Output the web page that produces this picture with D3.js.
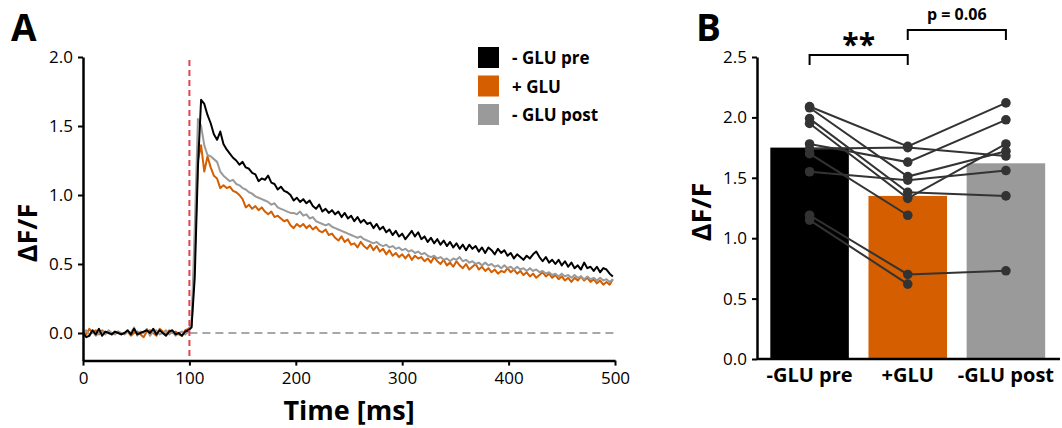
<!DOCTYPE html>
<html>
<head>
<meta charset="utf-8">
<script src="https://cdn.jsdelivr.net/npm/d3@7"></script>
<style>
  body { margin: 0; background: #fff; }
  svg { display: block; }
  text { font-family: "Open Sans", "Noto Sans", sans-serif; fill: #000; }
</style>
</head>
<body>
<svg id="drawing_region"></svg>
<script>
// ---- panel A: mean traces, sampled every 3 ms from 0 to 498 ms ----
const times = d3.range(0, 499, 3);

const tracePre = [
  0.00, -0.03, -0.02, 0.02, -0.01, 0.03, -0.02, 0.01, 0.00, -0.01, 0.01, 0.00, -0.01, 0.00, 0.02, -0.01, 0.03,
  -0.01, 0.00, 0.01, 0.02, 0.00, 0.03, -0.01, 0.02, 0.00, -0.02, 0.01, 0.02, -0.01, 0.00, -0.02, 0.01, 0.02,
  0.04, 0.40, 1.20, 1.69,
  1.66, 1.58, 1.52, 1.44, 1.40, 1.46, 1.37, 1.33, 1.30, 1.27,
  1.25, 1.22, 1.24, 1.20, 1.19, 1.16, 1.15, 1.10, 1.12, 1.11,
  1.14, 1.09, 1.08, 1.04, 1.06, 1.03, 1.02, 1.00, 0.96, 0.98,
  0.95, 0.97, 0.94, 0.96, 0.92, 0.90, 0.93, 0.88, 0.90, 0.87,
  0.89, 0.86, 0.88, 0.84, 0.87, 0.83, 0.85, 0.81, 0.84, 0.80,
  0.82, 0.79, 0.80, 0.76, 0.79, 0.75, 0.77, 0.73, 0.75, 0.71,
  0.74, 0.70, 0.72, 0.68, 0.71, 0.74, 0.70, 0.73, 0.68, 0.70,
  0.66, 0.69, 0.65, 0.68, 0.64, 0.67, 0.63, 0.66, 0.62, 0.65,
  0.61, 0.64, 0.60, 0.64, 0.61, 0.63, 0.59, 0.62, 0.58, 0.62,
  0.60, 0.57, 0.61, 0.58, 0.60, 0.56, 0.58, 0.54, 0.57, 0.55,
  0.53, 0.56, 0.54, 0.57, 0.59, 0.55, 0.52, 0.55, 0.51, 0.53,
  0.50, 0.53, 0.49, 0.52, 0.48, 0.51, 0.47, 0.49, 0.46, 0.51,
  0.47, 0.48, 0.45, 0.48, 0.44, 0.47, 0.46, 0.43, 0.41
];

const traceGlu = [
  0.01, -0.01, 0.03, 0.00, 0.02, -0.01, 0.02, 0.00, 0.01, -0.01, 0.00, 0.01, -0.01, 0.00, 0.01, -0.02, 0.00,
  0.01, -0.01, -0.03, 0.01, 0.02, 0.00, -0.02, 0.03, 0.01, -0.01, 0.02, 0.00, 0.01, -0.01, -0.02, 0.02, 0.03,
  0.05, 0.55, 1.25, 1.36,
  1.17, 1.28, 1.20, 1.14, 1.12, 1.05, 1.07, 1.05, 1.06, 1.03,
  1.02, 1.00, 0.97, 0.91, 0.93, 0.90, 0.92, 0.89, 0.91, 0.88,
  0.86, 0.88, 0.84, 0.85, 0.83, 0.81, 0.82, 0.78, 0.76, 0.79,
  0.77, 0.79, 0.76, 0.78, 0.75, 0.77, 0.74, 0.73, 0.75, 0.71,
  0.72, 0.69, 0.67, 0.70, 0.66, 0.68, 0.64, 0.65, 0.62, 0.66,
  0.63, 0.61, 0.64, 0.60, 0.63, 0.59, 0.61, 0.57, 0.60, 0.56,
  0.58, 0.55, 0.57, 0.54, 0.57, 0.53, 0.56, 0.54, 0.55, 0.52,
  0.54, 0.51, 0.55, 0.52, 0.50, 0.53, 0.49, 0.51, 0.48, 0.52,
  0.49, 0.47, 0.50, 0.46, 0.48, 0.50, 0.46, 0.48, 0.45, 0.47,
  0.44, 0.46, 0.43, 0.45, 0.44, 0.47, 0.44, 0.46, 0.43, 0.45,
  0.42, 0.44, 0.41, 0.43, 0.40, 0.42, 0.44, 0.41, 0.43, 0.40,
  0.42, 0.39, 0.41, 0.38, 0.40, 0.37, 0.40, 0.38, 0.41, 0.38,
  0.40, 0.37, 0.39, 0.36, 0.38, 0.35, 0.37, 0.35, 0.39
];

const tracePost = [
  0.00, 0.02, -0.01, 0.01, -0.02, 0.00, 0.01, -0.01, 0.02, 0.00, -0.01, 0.01, 0.00, -0.01, 0.01, 0.00, 0.04,
  -0.02, 0.01, 0.00, 0.03, -0.02, 0.01, 0.02, -0.01, 0.00, 0.02, -0.01, 0.01, -0.02, 0.00, 0.01, -0.01, 0.01,
  0.06, 0.75, 1.55, 1.50,
  1.36, 1.29, 1.28, 1.26, 1.24, 1.17, 1.14, 1.12, 1.10, 1.11,
  1.08, 1.07, 1.05, 1.04, 1.02, 1.01, 0.99, 0.98, 0.97, 0.96,
  0.95, 0.93, 0.94, 0.91, 0.90, 0.89, 0.88, 0.87, 0.87, 0.86,
  0.88, 0.85, 0.86, 0.83, 0.84, 0.81, 0.80, 0.79, 0.78, 0.79,
  0.77, 0.76, 0.75, 0.74, 0.73, 0.72, 0.71, 0.70, 0.69, 0.70,
  0.68, 0.67, 0.66, 0.65, 0.66, 0.64, 0.63, 0.64, 0.62, 0.63,
  0.61, 0.62, 0.60, 0.61, 0.59, 0.60, 0.58, 0.59, 0.57, 0.58,
  0.56, 0.55, 0.56, 0.54, 0.55, 0.53, 0.54, 0.52, 0.54, 0.53,
  0.55, 0.52, 0.53, 0.51, 0.52, 0.50, 0.51, 0.49, 0.51, 0.49,
  0.50, 0.48, 0.49, 0.47, 0.49, 0.47, 0.48, 0.46, 0.48, 0.46,
  0.47, 0.45, 0.47, 0.45, 0.46, 0.44, 0.45, 0.43, 0.44, 0.42,
  0.43, 0.41, 0.43, 0.41, 0.42, 0.40, 0.42, 0.40, 0.41, 0.39,
  0.41, 0.39, 0.40, 0.38, 0.40, 0.38, 0.39, 0.37, 0.39
];

const legendLabels = ["- GLU pre", "+ GLU", "- GLU post"];
const colors = ["#000000", "#d45e00", "#9a9a9a"];
const xTicksA = [0, 100, 200, 300, 400, 500];
const yTicksA = [0.0, 0.5, 1.0, 1.5, 2.0];
const stimTime = 100;

// ---- panel B: bars (means) and single cells ----
const conditions = ["-GLU pre", "+GLU", "-GLU post"];
const barMeans = [1.75, 1.35, 1.62];
const cellPre  = [2.09, 2.08, 1.99, 1.95, 1.78, 1.74, 1.70, 1.55, 1.19, 1.15];
const cellGlu  = [1.76, 1.51, 1.38, 1.33, 1.63, 1.75, 1.19, 1.48, 0.70, 0.62];
const cellPost = [2.12, 1.72, 1.35, 1.78, 1.98, 1.68, null, 1.56, 0.73, null];
const yTicksB = [0.0, 0.5, 1.0, 1.5, 2.0, 2.5];

const svg = d3.select("#drawing_region")
  .attr("width", 1062)
  .attr("height", 428);

// ================= panel A =================
const xA = d3.scaleLinear().domain([0, 500]).range([83, 615]);
const yA = d3.scaleLinear().domain([-0.2, 2.0]).range([360.6, 57]);

const gA = svg.append("g");

// baseline and stimulus markers
gA.append("line")
  .attr("x1", xA(stimTime)).attr("x2", xA(500))
  .attr("y1", yA(0)).attr("y2", yA(0))
  .attr("stroke", "#a8a8a8").attr("stroke-width", 2)
  .attr("stroke-dasharray", "8,5");

const traces = [tracePre, traceGlu, tracePost];
const line = d3.line()
  .x((d, i) => xA(times[i]))
  .y(d => yA(d));

// orange, grey, then black on top
[1, 2, 0].forEach(k => {
  gA.append("path")
    .datum(traces[k])
    .attr("fill", "none")
    .attr("stroke", colors[k])
    .attr("stroke-width", 2)
    .attr("stroke-linejoin", "round")
    .attr("d", line);
});

gA.append("line")
  .attr("x1", xA(stimTime)).attr("x2", xA(stimTime))
  .attr("y1", 60).attr("y2", yA(-0.2))
  .attr("stroke", "#e3434d").attr("stroke-width", 2)
  .attr("stroke-dasharray", "6,4");

const xAxisA = gA.append("g")
  .attr("transform", `translate(0, ${yA(-0.2)})`)
  .call(d3.axisBottom(xA).tickValues(xTicksA).tickSize(5).tickSizeOuter(0).tickPadding(6));
const yAxisA = gA.append("g")
  .attr("transform", `translate(${xA(0)}, 0)`)
  .call(d3.axisLeft(yA).tickValues(yTicksA).tickFormat(d3.format(".1f")).tickSize(5).tickSizeOuter(0).tickPadding(5));

[xAxisA, yAxisA].forEach(ax => {
  ax.select(".domain").attr("stroke-width", 2.5);
  ax.selectAll(".tick line").attr("stroke-width", 2);
  ax.selectAll(".tick text")
    .attr("font-size", 17)
    .attr("font-family", "'Open Sans', sans-serif")
    .attr("fill", "#000");
});

gA.append("text")
  .attr("x", 349).attr("y", 420)
  .attr("text-anchor", "middle")
  .attr("font-size", 27).attr("font-weight", 700)
  .text("Time [ms]");

gA.append("text")
  .attr("transform", "translate(37, 233) rotate(-90)")
  .attr("text-anchor", "middle")
  .attr("font-size", 27).attr("font-weight", 700)
  .text("ΔF/F");

svg.append("text")
  .attr("x", 11).attr("y", 41)
  .attr("font-size", 37).attr("font-weight", 700)
  .text("A");

// legend
const legend = gA.append("g")
  .selectAll("g")
  .data(legendLabels)
  .join("g")
  .attr("transform", (d, i) => `translate(478, ${47 + i * 28.5})`);

legend.append("rect")
  .attr("width", 21).attr("height", 21)
  .attr("fill", (d, i) => colors[i]);

legend.append("text")
  .attr("x", 34).attr("y", 17)
  .attr("font-family", "'Liberation Sans Narrow', 'DejaVu Sans Condensed', sans-serif")
  .attr("font-size", 17).attr("font-weight", 700)
  .text(d => d);

// ================= panel B =================
const xB = d3.scaleBand().domain(conditions).range([760.5, 1055]).paddingInner(0.2).paddingOuter(0.1);
const yB = d3.scaleLinear().domain([0, 2.5]).range([359, 57]);

const gB = svg.append("g");

gB.selectAll("rect.bar")
  .data(barMeans)
  .join("rect")
  .attr("class", "bar")
  .attr("x", (d, i) => xB(conditions[i]))
  .attr("y", d => yB(d))
  .attr("width", xB.bandwidth())
  .attr("height", d => yB(0) - yB(d))
  .attr("fill", (d, i) => colors[i]);

const cx = i => xB(conditions[i]) + xB.bandwidth() / 2;
const cells = cellPre.map((p, j) => [p, cellGlu[j], cellPost[j]]);

const cellLine = d3.line()
  .defined(d => d != null)
  .x((d, i) => cx(i))
  .y(d => yB(d));

gB.selectAll("path.cell")
  .data(cells)
  .join("path")
  .attr("class", "cell")
  .attr("fill", "none")
  .attr("stroke", "#333")
  .attr("stroke-width", 2)
  .attr("d", cellLine);

cells.forEach(c => {
  c.forEach((v, i) => {
    if (v == null) return;
    gB.append("circle")
      .attr("cx", cx(i)).attr("cy", yB(v))
      .attr("r", 4.8)
      .attr("fill", "#333");
  });
});

const xAxisB = gB.append("g")
  .attr("transform", `translate(0, ${yB(0)})`)
  .call(d3.axisBottom(xB).tickSize(0).tickPadding(9));
xAxisB.select(".domain").attr("d", "M757,0H1060").attr("stroke-width", 2.5);
xAxisB.selectAll(".tick text")
  .attr("font-size", 20).attr("font-weight", 700)
  .attr("font-family", "'Open Sans', sans-serif")
  .attr("fill", "#000");

const yAxisB = gB.append("g")
  .attr("transform", "translate(757, 0)")
  .call(d3.axisLeft(yB).tickValues(yTicksB).tickFormat(d3.format(".1f")).tickSize(5).tickSizeOuter(0).tickPadding(5));
yAxisB.select(".domain").attr("stroke-width", 2.5);
yAxisB.selectAll(".tick line").attr("stroke-width", 2);
yAxisB.selectAll(".tick text")
  .attr("font-size", 17)
  .attr("font-family", "'Open Sans', sans-serif")
  .attr("fill", "#000");

gB.append("text")
  .attr("transform", "translate(711, 212) rotate(-90)")
  .attr("text-anchor", "middle")
  .attr("font-size", 27).attr("font-weight", 700)
  .text("ΔF/F");

svg.append("text")
  .attr("x", 696).attr("y", 41)
  .attr("font-size", 37).attr("font-weight", 700)
  .text("B");

// significance brackets
const brackets = [
  { a: 0, b: 1, top: 55, leg: 10, label: "**", size: 30, ty: 55 },
  { a: 1, b: 2, top: 30, leg: 10, label: "p = 0.06", size: 16, ty: 20 }
];
brackets.forEach(br => {
  const x1 = cx(br.a), x2 = cx(br.b);
  gB.append("path")
    .attr("d", `M${x1},${br.top + br.leg}V${br.top}H${x2}V${br.top + br.leg}`)
    .attr("fill", "none")
    .attr("stroke", "#000")
    .attr("stroke-width", 2);
  gB.append("text")
    .attr("x", (x1 + x2) / 2)
    .attr("y", br.ty)
    .attr("text-anchor", "middle")
    .attr("font-size", br.size).attr("font-weight", 700)
    .text(br.label);
});
</script>
</body>
</html>
